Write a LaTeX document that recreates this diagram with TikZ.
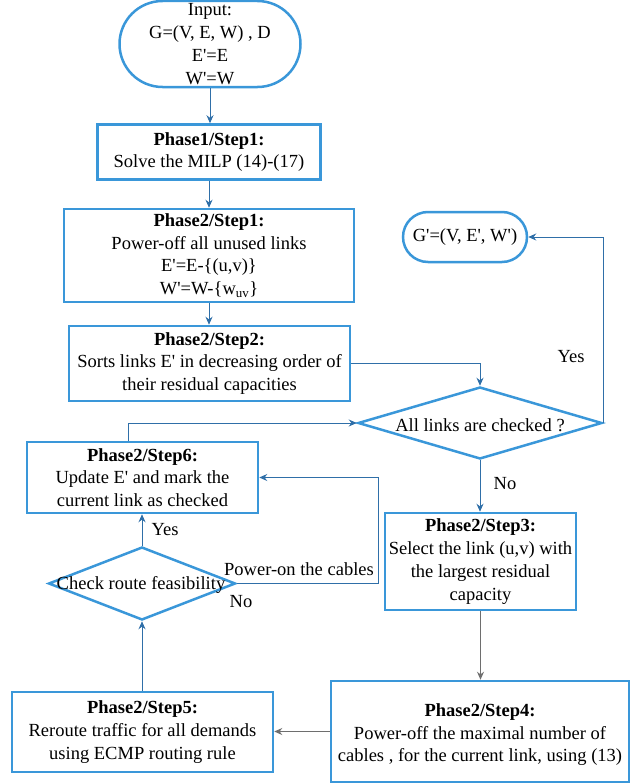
\documentclass[tikz,border=0pt]{standalone}
\usepackage{fontspec}
\setmainfont{Liberation Serif}
\usetikzlibrary{arrows.meta,shapes.geometric}
\definecolor{boxblue}{HTML}{3A97D9}
\definecolor{linkblue}{HTML}{2F6FA8}
\definecolor{arrgray}{HTML}{6E6E6E}
\newcommand{\ap}{\textquotesingle}
\begin{document}
\begin{tikzpicture}[x=1pt,y=-1pt,
  font=\fontsize{18.5}{22.8}\selectfont,
  box/.style={draw=boxblue, line width=2.5pt, align=center, inner sep=0pt},
  dia/.style={diamond, draw=boxblue, line width=2.5pt, inner sep=0pt},
  conn/.style={draw=linkblue, line width=1pt, -{Stealth[length=8pt,width=7pt]}},
  gconn/.style={draw=arrgray, line width=1pt, -{Stealth[length=8pt,width=7pt]}},
  lbl/.style={inner sep=0pt}]
\useasboundingbox (0,0) rectangle (641,784);

\node[box, rounded corners=43pt, minimum width=181pt, minimum height=86pt] (in) at (210,44)
  {Input:\\G=(V, E, W) , D\\E\ap=E\\W\ap=W};
\node[box, minimum width=223pt, minimum height=55pt] (p1s1) at (209,152)
  {\textbf{Phase1/Step1:}\\Solve the MILP (14)-(17)};
\node[box, minimum width=290pt, minimum height=93pt] (p2s1) at (209,255.5)
  {\textbf{Phase2/Step1:}\\Power-off all unused links\\E\ap=E-\{(u,v)\}\\W\ap=W-\{w\textsubscript{uv}\}};
\node[box, minimum width=281pt, minimum height=75pt] (p2s2) at (209.5,363.5)
  {\textbf{Phase2/Step2:}\\Sorts links E\ap\ in decreasing order of\\their residual capacities};
\node[box, rounded corners=25pt, minimum width=124pt, minimum height=50pt] (gp) at (465,237)
  {G\ap=(V, E\ap, W\ap)};
\node[dia, minimum width=244pt, minimum height=72pt] (d1) at (480,423) {};
\node[lbl] (d1t) at (480,425) {All links are checked ?};
\node[box, minimum width=191pt, minimum height=97pt] (p2s3) at (480.5,561.5)
  {\textbf{Phase2/Step3:}\\Select the link (u,v) with\\the largest residual\\capacity};
\node[box, minimum width=298pt, minimum height=101pt] (p2s4) at (480,731.5)
  {\rule{0pt}{19pt}\textbf{Phase2/Step4:}\\Power-off the maximal number of\\cables , for the current link, using (13)};
\node[box, minimum width=261pt, minimum height=80pt] (p2s5) at (142.5,732)
  {\textbf{Phase2/Step5:}\\Reroute traffic for all demands\\using ECMP routing rule};
\node[dia, minimum width=187pt, minimum height=73pt] (d2) at (142,583.5) {};
\node[lbl] (d2t) at (141,585) {Check route feasibility};
\node[box, minimum width=231pt, minimum height=71pt] (p2s6) at (142.5,477.5)
  {\textbf{Phase2/Step6:}\\Update E\ap\ and mark the\\current link as checked};

\coordinate (pwr) at (378,0);

\draw[conn] (in.south) -- (in.south |- p1s1.north);
\draw[conn] (p1s1.south) -- (p1s1.south |- p2s1.north);
\draw[conn] (p2s1.south) -- (p2s1.south |- p2s2.north);
\draw[conn] (p2s2.east) -| (d1.north);
\draw[conn] (d1.east) |- (gp.east);
\draw[conn] (d1.south) -- (d1.south |- p2s3.north);
\draw[gconn] (p2s3.south) -- (p2s3.south |- p2s4.north);
\draw[gconn] (p2s4.west) -- (p2s4.west -| p2s5.east);
\draw[conn] (p2s5.north -| d2.south) -- (d2.south);
\draw[conn] (d2.north) -- (d2.north |- p2s6.south);
\draw[conn] (d2.east) -| (pwr |- p2s6.east) -- (p2s6.east);
\draw[conn] ([xshift=-14.5pt]p2s6.north) |- (d1.west);

\node[lbl] (yes1) at (571,357) {Yes};
\node[lbl] (no1) at (505,484) {No};
\node[lbl] (pon) at (299,569) {Power-on the cables};
\node[lbl] (no2) at (241,602) {No};
\node[lbl] (yes2) at (165,530) {Yes};
\end{tikzpicture}
\end{document}
